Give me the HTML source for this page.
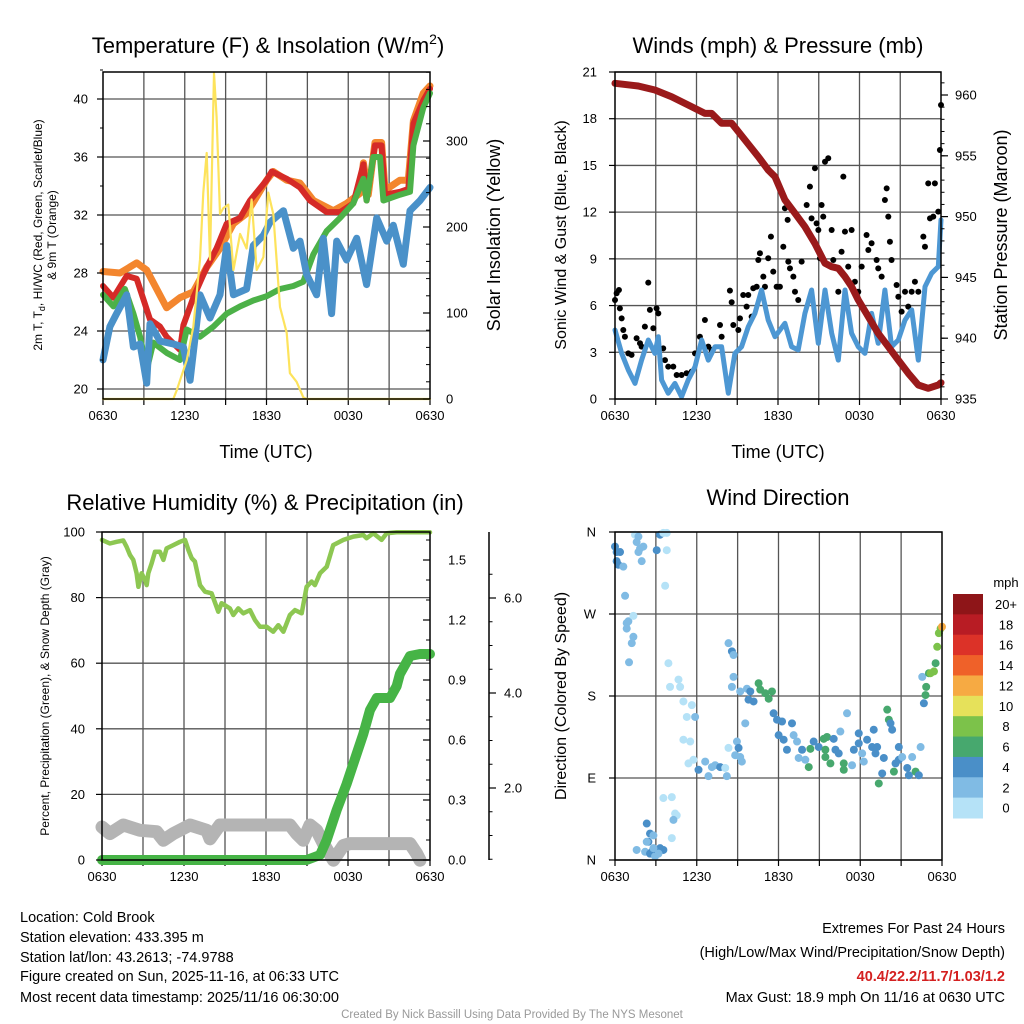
<!DOCTYPE html>
<html><head><meta charset="utf-8"><title>Cold Brook Meteogram</title>
<style>
html,body{margin:0;padding:0;background:#fff;}
svg{display:block;font-family:"Liberation Sans",sans-serif;}
.tk{font-size:13px;fill:#000;}
.ttl{font-size:22px;fill:#000;}
.ax{font-size:18px;fill:#000;}
.ft{font-size:14.5px;fill:#000;}
</style></head><body>
<svg id="chart" width="1024" height="1024" viewBox="0 0 1024 1024">
<rect x="0" y="0" width="1024" height="1024" fill="#fff"/>
<text class="ttl" x="268" y="53" text-anchor="middle">Temperature (F) &amp; Insolation (W/m<tspan dy="-9" font-size="14">2</tspan><tspan dy="9">)</tspan></text>
<text class="ttl" x="778" y="53" text-anchor="middle">Winds (mph) &amp; Pressure (mb)</text>
<text class="ttl" x="265" y="510" text-anchor="middle">Relative Humidity (%) &amp; Precipitation (in)</text>
<text class="ttl" x="778" y="505" text-anchor="middle">Wind Direction</text>
<text class="ax" x="266" y="458" text-anchor="middle">Time (UTC)</text>
<text class="ax" x="778" y="458" text-anchor="middle">Time (UTC)</text>
<text font-size="12" transform="translate(42,235) rotate(-90)" text-anchor="middle">2m T, T<tspan dy="3" font-size="9">d</tspan><tspan dy="-3">, HI/WC (Red, Green, Scarlet/Blue)</tspan></text>
<text font-size="12" transform="translate(56,235) rotate(-90)" text-anchor="middle">&amp; 9m T (Orange)</text>
<text class="ax" transform="translate(500,235) rotate(-90)" text-anchor="middle">Solar Insolation (Yellow)</text>
<text font-size="16" transform="translate(566,235) rotate(-90)" text-anchor="middle">Sonic Wind &amp; Gust (Blue, Black)</text>
<text class="ax" transform="translate(1007,235) rotate(-90)" text-anchor="middle">Station Pressure (Maroon)</text>
<text font-size="12" transform="translate(49,696) rotate(-90)" text-anchor="middle">Percent, Precipitation (Green), &amp; Snow Depth (Gray)</text>
<text font-size="16" transform="translate(566,696) rotate(-90)" text-anchor="middle">Direction (Colored By Speed)</text>
<text class="tk" x="1006" y="587" text-anchor="middle">mph</text>
<g>
<text class="ft" x="20" y="922">Location: Cold Brook</text>
<text class="ft" x="20" y="942">Station elevation: 433.395 m</text>
<text class="ft" x="20" y="962">Station lat/lon: 43.2613; -74.9788</text>
<text class="ft" x="20" y="981">Figure created on Sun, 2025-11-16, at 06:33 UTC</text>
<text class="ft" x="20" y="1002">Most recent data timestamp: 2025/11/16 06:30:00</text>
</g>
<g>
<text class="ft" x="1005" y="933" text-anchor="end">Extremes For Past 24 Hours</text>
<text class="ft" x="1005" y="957" text-anchor="end">(High/Low/Max Wind/Precipitation/Snow Depth)</text>
<text class="ft" x="1005" y="981" text-anchor="end" fill="#d42020" style="fill:#d42020;font-weight:bold">40.4/22.2/11.7/1.03/1.2</text>
<text class="ft" x="1005" y="1002" text-anchor="end">Max Gust: 18.9 mph On 11/16 at 0630 UTC</text>
</g>
<text x="512" y="1018" font-size="11.5" fill="#999" text-anchor="middle">Created By Nick Bassill Using Data Provided By The NYS Mesonet</text>
</svg>
<script>
// ---- Data (time in hours since 0630 UTC) ----
const xTickLabels=['0630','1230','1830','0030','0630'];
const tempTicks=[20,24,28,32,36,40];
const solarTicks=[0,100,200,300];
const windTicks=[0,3,6,9,12,15,18,21];
const pressTicks=[935,940,945,950,955,960];
const rhTicks=[0,20,40,60,80,100];
const precipTicks=[0.0,0.3,0.6,0.9,1.2,1.5];
const snowTicks=[2.0,4.0,6.0];
const dirTicks=[0,90,180,270,360];
const dirLabels=['N','E','S','W','N'];
const speedBins=['0','2','4','6','8','10','12','14','16','18','20+'];
const speedColors=['#b5e2f7','#80bbe4','#4a8fc8','#47a86e','#7cc24a','#e6e15a','#f6aa43','#ef6129','#dc3228','#b81c24','#8e1518'];

const t9T=[0,1.25,2.47,3.21,4.67,5.65,6.63,7.61,8.59,9.57,10.54,12.01,12.5,13.48,14.46,15.44,16.91,17.88,18.86,19.11,19.47,19.96,20.45,20.7,21.8,22.41,22.78,23.51,24];
const v9T=[28.1,28.0,28.7,28.2,25.6,26.3,26.7,28.4,29.7,31.4,32.1,34.4,35.0,34.4,34.2,33.0,32.3,32.8,33.5,35.6,33.4,37.0,37.0,33.7,34.4,34.4,38.5,40.4,40.9];
const t2T=[0,0.76,1.74,2.47,3.45,4.18,4.67,5.65,5.9,6.63,7.61,8.34,9.08,10.06,10.79,12.01,12.38,13.48,14.46,15.19,16.42,17.4,18.37,19.11,19.35,19.96,20.45,20.7,21.8,22.41,22.78,23.51,24];
const v2T=[27.1,26.3,27.8,27.6,24.8,24.3,23.6,22.7,24.4,26.3,28.4,29.7,31.4,31.8,33.0,34.4,35.0,34.5,33.9,33.0,32.2,32.2,32.8,35.5,33.0,36.8,36.8,33.4,33.6,33.8,38.3,39.9,40.7];
const tTd=[0,0.76,1.61,2.23,2.72,3.21,3.69,4.67,5.65,6.14,7.12,8.1,9.08,10.06,11.03,12.01,12.99,13.97,14.7,15.44,16.42,17.4,18.37,19.11,19.35,19.84,20.33,20.58,21.8,22.53,22.78,23.51,24];
const vTd=[26.5,25.7,26.9,25.2,23.6,21.3,23.2,22.5,22.0,24.1,23.6,24.3,25.2,25.7,26.1,26.4,26.9,27.1,27.4,29.3,30.9,31.8,32.8,34.5,33.0,36.0,36.0,33.0,33.4,33.6,36.8,39.4,40.4];
const tWC=[0,0.51,1.0,1.74,2.23,2.72,3.21,3.45,4.18,5.16,5.9,6.39,7.12,7.85,8.59,9.08,9.57,10.54,11.03,11.77,12.26,13.24,13.97,14.46,14.95,15.68,16.17,16.78,17.15,17.88,18.62,19.35,20.09,20.82,21.31,22.04,22.53,23.27,24];
const vWC=[22.0,24.3,25.2,26.5,22.9,23.1,20.4,24.5,23.3,23.1,22.9,20.6,26.5,24.9,26.5,29.9,26.5,26.9,29.9,30.6,31.5,32.3,29.7,30.2,27.9,26.5,30.4,25.2,30.2,28.9,30.4,27.2,31.8,30.2,31.3,28.6,32.3,33.0,33.9];
const tSol=[0,5.16,5.41,6.14,6.63,7.12,7.36,7.61,7.85,8.15,8.34,8.59,8.83,9.2,9.57,10.06,10.54,10.91,11.28,11.77,12.13,12.5,12.99,13.48,13.72,14.21,14.7,14.95,24];
const vSol=[0,0,10,45,84,162,240,286,162,379,328,215,222,226,150,192,175,232,150,165,240,215,107,77,30,20,2,0,0];

const tPres=[0,1.71,2.94,4.17,5.39,6.62,7.11,7.85,8.59,9.57,10.55,11.28,11.78,12.51,13.25,13.98,14.72,15.46,15.95,16.44,16.93,17.42,17.91,18.65,19.38,20.12,20.86,21.59,22.33,23.06,23.8,24];
const vPres=[960.96,960.74,960.41,959.86,959.18,958.49,958.49,957.67,957.67,956.3,954.93,953.83,953.28,951.37,950.27,949.17,947.8,946.16,945.88,945.75,945.06,944.24,943.14,941.77,940.4,939.3,938.2,937.11,936.15,935.88,936.15,936.34];
const tWind=[0,0.49,0.98,1.47,1.96,2.45,2.94,3.19,3.43,3.92,4.41,4.9,5.39,5.89,6.38,6.87,7.36,7.85,8.34,8.83,9.32,9.81,10.3,10.79,11.28,11.78,12.51,13.0,13.49,13.98,14.47,14.97,15.46,15.95,16.44,16.93,17.42,17.91,18.4,18.89,19.38,19.87,20.36,20.86,21.35,21.84,22.33,22.82,23.31,23.8,24];
const vWind=[4.43,2.93,1.86,1.0,2.5,3.79,2.93,4.0,1.22,0.37,1.0,0.15,1.22,2.07,3.79,2.5,3.36,3.36,0.37,2.93,3.36,4.64,5.5,7.0,5.07,4.0,4.86,3.36,3.15,5.5,7.0,3.58,7.0,4.22,2.5,7.0,4.22,3.36,2.93,5.5,3.58,7.0,3.36,3.79,5.07,5.72,2.5,7.21,8.07,8.5,11.5];
const tGust=[0,0.12,0.29,0.36,0.49,0.61,0.73,0.98,1.22,1.59,1.84,1.96,2.2,2.45,2.57,2.82,3.06,3.19,3.55,3.68,3.92,4.29,4.54,4.9,5.27,5.64,5.89,6.25,6.62,6.87,7.11,7.73,7.85,8.46,8.59,8.71,9.08,9.2,9.44,9.69,9.81,10.06,10.18,10.43,10.55,10.67,10.92,11.04,11.28,11.48,11.65,11.9,12.14,12.39,12.51,12.71,12.76,12.88,13.13,13.25,13.49,13.74,14.11,14.35,14.47,14.72,14.84,14.97,15.09,15.21,15.33,15.46,15.7,15.95,16.07,16.44,16.68,16.81,16.93,17.17,17.42,17.66,17.91,18.16,18.52,18.65,18.89,19.26,19.38,19.63,19.87,20.0,20.12,20.24,20.36,20.73,20.86,21.1,21.35,21.59,21.84,22.08,22.33,22.7,22.82,23.06,23.19,23.43,23.55,23.8,23.92,24];
const vGust=[6.36,6.79,7.0,5.82,5.18,4.43,4.0,2.93,2.83,3.9,3.58,3.36,4.65,7.47,5.72,4.54,5.82,5.5,3.25,2.5,2.08,2.08,1.54,1.54,1.65,1.76,2.93,4.0,5.07,3.36,3.15,4.75,4.0,6.96,6.21,4.75,4.43,5.18,6.68,5.93,6.68,5.29,7.11,7.21,8.93,9.36,7.86,7.21,9.04,10.43,8.18,7.21,7.21,9.78,12.25,11.5,8.82,8.39,7.86,6.89,6.36,8.82,12.46,13.64,11.6,14.82,11.28,10.85,9.04,12.46,11.71,15.24,15.46,10.85,8.93,6.89,9.46,14.28,10.75,8.5,10.85,7.53,6.89,8.5,10.53,9.57,10.0,8.93,8.39,7.86,12.78,13.53,11.71,10.1,8.93,7.32,6.57,5.61,6.89,5.93,6.89,7.53,6.89,10.43,9.78,13.85,11.6,11.71,13.85,12.03,15.99,18.88];

const tRH=[0,0.58,1.07,1.56,1.8,2.05,2.29,2.53,2.66,2.9,3.14,3.27,3.39,3.63,3.88,4.24,4.49,4.73,5.22,5.71,6.07,6.32,6.56,6.8,7.17,7.54,8.02,8.51,8.75,9.36,9.61,9.97,10.34,10.83,11.19,11.56,12.05,12.53,12.9,13.27,13.75,14.12,14.61,14.97,15.34,15.58,15.95,16.44,16.92,17.66,18.39,19.12,19.36,19.85,20.46,20.83,21.56,24];
const vRH=[97.6,96.5,97.0,97.4,95.5,93.0,91.5,87.4,83.3,87.4,85.4,83.8,87.4,90.4,94.0,94.0,91.5,95.0,96.0,97.0,97.6,94.5,92.0,91.0,83.8,81.8,81.3,75.7,78.3,76.7,74.7,76.7,75.2,76.2,73.2,71.1,71.1,69.6,71.6,69.6,74.7,76.2,75.2,83.3,84.9,83.8,87.4,89.4,96.0,97.6,98.6,99.1,98.1,99.6,97.6,99.6,99.9,99.9];
const tPcp=[0,14.97,15.95,16.44,17.17,17.9,18.63,19.12,19.61,20.1,21.07,21.56,21.8,22.54,23.27,24];
const vPcp=[0,0,0.025,0.1,0.25,0.38,0.53,0.63,0.75,0.81,0.81,0.87,0.93,1.02,1.03,1.03];
const tSnow=[0,0.58,1.56,2.78,4.0,4.49,5.22,6.44,7.66,7.9,8.63,13.75,14.24,14.73,15.22,15.71,16.2,16.93,17.66,18.14,22.54,23.02,23.27];
const vSnow=[1.18,1.04,1.22,1.11,1.08,0.9,1.04,1.22,1.11,0.93,1.22,1.22,1.04,0.9,1.22,1.11,0.83,0.48,0.79,0.83,0.83,0.62,0.48];

const wdT=[0,0.12,0.37,0.12,0.25,0.61,1.47,1.72,1.59,1.84,2.08,1.72,1.96,3.31,3.55,3.8,3.06,3.8,3.68,0.74,0.86,0.98,0.86,1.35,1.35,1.23,1.03,3.92,4.66,4.78,4.04,5.02,5.64,5.27,5.88,5.02,5.52,5.39,5.76,6.13,6.62,7.11,7.35,7.72,8.09,8.21,6.86,8.33,8.58,8.7,8.7,8.58,8.95,8.33,8.82,9.19,9.07,9.31,9.56,9.19,9.68,9.93,9.8,10.17,10.54,10.66,11.03,11.52,11.28,11.64,11.89,12.26,12.01,12.38,12.62,12.99,13.11,13.36,13.48,13.73,13.97,14.34,14.22,14.58,14.95,15.32,15.56,15.44,15.44,15.81,16.05,16.18,16.42,16.54,16.79,16.79,17.03,17.4,17.53,17.89,17.89,18.14,18.26,18.5,18.87,18.99,19.12,19.24,19.36,19.61,19.73,19.98,20.1,20.22,20.34,20.47,20.59,20.83,20.83,21.08,21.45,21.57,21.81,22.06,22.3,22.43,22.55,22.67,22.79,22.84,23.04,23.16,23.41,23.53,23.65,23.77,23.9,24,2.33,2.57,2.45,2.33,2.82,1.59,2.21,2.57,2.7,2.94,3.06,3.31,3.55,3.19,3.55,4.17,4.41,4.53,4.29,4.17,2.82];
const wdDir=[344,338,338,328,324,322,357,355,349,342,344,338,328,357,359,359,340,340,301,290,260,262,254,268,245,238,217,216,198,190,190,174,170,157,157,132,130,106,110,99,108,102,104,102,101,92,92,238,229,225,201,190,130,123,115,113,123,108,150,185,188,185,176,174,194,187,183,185,177,161,154,152,137,132,121,150,137,130,112,121,110,122,102,130,124,133,135,121,113,106,133,121,117,141,106,99,161,104,121,139,128,117,108,132,124,143,117,124,84,95,112,165,154,150,143,97,106,124,110,113,101,93,113,97,93,124,201,172,181,190,205,205,207,216,234,249,254,256,40,29,20,20,27,11,9,7,9,4,11,13,11,7,68,69,51,49,44,24,13];
const wdSpd=[5,5,5,5,5,3,1,3,3,3,3,3,3,5,1,1,5,1,1,3,3,3,3,1,3,3,3,1,1,1,1,1,1,1,3,1,1,1,1,5,3,3,3,5,1,3,3,3,5,3,3,3,3,1,3,3,5,3,3,3,3,5,5,5,7,7,7,7,7,5,5,5,5,5,5,5,3,3,3,5,3,7,7,5,5,7,7,7,7,7,5,5,5,3,7,7,3,3,5,5,5,3,3,5,5,5,5,5,7,5,5,7,7,5,5,7,5,5,5,3,5,5,3,7,5,3,3,5,7,7,7,9,9,7,9,9,9,13,5,5,5,3,3,3,3,5,5,3,5,5,5,3,1,1,1,1,3,1,3];

// ---- Helpers ----
const NS='http://www.w3.org/2000/svg';
const svg=document.getElementById('chart');
function mk(tag,attrs,parent){const e=document.createElementNS(NS,tag);for(const k in attrs)e.setAttribute(k,attrs[k]);(parent||svg).appendChild(e);return e;}
function lin(d0,d1,r0,r1){return v=>r0+(v-d0)*(r1-r0)/(d1-d0);}
function pathD(ts,vs,fx,fy){return ts.map((t,i)=>(i?'L':'M')+fx(t).toFixed(1)+','+fy(vs[i]).toFixed(1)).join('');}

const P=[
 {x0:103,x1:430,y0:72,y1:399},
 {x0:615,x1:941,y0:72,y1:399},
 {x0:102,x1:430,y0:532,y1:860},
 {x0:615,x1:942,y0:532,y1:860}
];
const names=['temperature','winds','humidity','direction'];

function drawFrame(i,hVals,fy){
  const p=P[i];const g=mk('g',{});
  
  
  const fx=lin(0,24,p.x0,p.x1);
  for(let h=3;h<24;h+=3){
    const l=mk('line',{x1:fx(h),x2:fx(h),y1:p.y0,y2:p.y1,stroke:'#555','stroke-width':1.3},g);
    
    
  }
  hVals.forEach(v=>{
    const y=fy(v);
    const l=mk('line',{x1:p.x0,x2:p.x1,y1:y,y2:y,stroke:'#555','stroke-width':1.3},g);
    
    
  });
  for(let h=0;h<=24;h+=3){
    const tk=mk('line',{x1:fx(h),x2:fx(h),y1:p.y1,y2:p.y1+6,stroke:'#000','stroke-width':1.2},g);
    
    
  }
  xTickLabels.forEach((s,k)=>{
    const tx=mk('text',{x:fx(k*6),y:p.y1+21,'text-anchor':'middle',class:'tk'},g);
    tx.textContent=s;
    
    
  });
  return {g,fx};
}
function border(i){
  const p=P[i];
  const r=mk('rect',{x:p.x0,y:p.y0,width:p.x1-p.x0,height:p.y1-p.y0,fill:'none',stroke:'#000','stroke-width':1.5});
  
  
}
function yLabels(vals,labels,fy,x,anchor,tickX,tickLen,nm){
  vals.forEach((v,k)=>{
    const y=fy(v);
    const t=mk('line',{x1:tickX,x2:tickX+tickLen,y1:y,y2:y,stroke:'#000','stroke-width':1.2});
    
    
    const tx=mk('text',{x:x,y:y+4.5,'text-anchor':anchor,class:'tk'});
    tx.textContent=labels[k];
    
    
  });
}
function minorTicks(from,to,step,fy,tickX,tickLen,nm){
  for(let v=from;v<=to+1e-9;v+=step){
    const y=fy(v);
    const t=mk('line',{x1:tickX,x2:tickX+tickLen,y1:y,y2:y,stroke:'#000','stroke-width':1});
    
    
  }
}
function line(ts,vs,fx,fy,color,w,nm,op){
  const e=mk('path',{d:pathD(ts,vs,fx,fy),fill:'none',stroke:color,'stroke-width':w,'stroke-linejoin':'round','stroke-linecap':'round',opacity:op||1});
  
  
  return e;
}

// ---- Panel 1: Temperature ----
const yT=lin(20,40,389,99), ySol=lin(0,300,399,141);
let f=drawFrame(0,tempTicks,yT);
line(t9T,v9T,f.fx,yT,'#f3862e',7,'series-9m-temperature');
line(t2T,v2T,f.fx,yT,'#d52a27',6,'series-2m-temperature');
line(tTd,vTd,f.fx,yT,'#4cb148',6,'series-dewpoint');
line(tWC,vWC,f.fx,yT,'#4a91c9',7,'series-wind-chill');
line(tSol,vSol,f.fx,ySol,'#fde35c',2.2,'series-solar-insolation');
border(0);
yLabels(tempTicks,tempTicks.map(String),yT,88,'end',P[0].x0-6,6,'temperature-y');
minorTicks(20,42,2,yT,P[0].x0-3,3,'temperature-y');
yLabels(solarTicks,solarTicks.map(String),ySol,446,'start',P[0].x1-7,7,'solar-y');
minorTicks(0,380,20,ySol,P[0].x1-4,4,'solar-y');

// ---- Panel 2: Winds ----
const yW=lin(0,21,399,72), yP=lin(935,960,399,95);
f=drawFrame(1,windTicks,yW);
tGust.forEach((t,i)=>{
  const c=mk('circle',{cx:f.fx(t),cy:yW(vGust[i]),r:3,fill:'#000'});
  
  
});
line(tWind,vWind,f.fx,yW,'#4d97d3',5,'series-sonic-wind');
line(tPres,vPres,f.fx,yP,'#9a1a1b',7,'series-station-pressure');
border(1);
yLabels(windTicks,windTicks.map(String),yW,597,'end',P[1].x0-6,6,'wind-y');
yLabels(pressTicks,pressTicks.map(String),yP,955,'start',P[1].x1,7,'pressure-y');
minorTicks(935,961,1,yP,P[1].x1,3.5,'pressure-y');

// ---- Panel 3: Humidity ----
const yRH=lin(0,100,860,532), yPc=lin(0,0.3,860,800), ySn=lin(2,4,788,693);
f=drawFrame(2,rhTicks,yRH);
line(tRH,vRH,f.fx,yRH,'#8dc752',4.5,'series-relative-humidity');
line(tSnow,vSnow,f.fx,ySn,'#b4b4b4',13,'series-snow-depth');
line(tPcp,vPcp,f.fx,yPc,'#46b446',10,'series-precipitation');
border(2);
yLabels(rhTicks,rhTicks.map(String),yRH,85,'end',P[2].x0-6,6,'humidity-y');
yLabels(precipTicks,precipTicks.map(v=>v.toFixed(1)),yPc,448,'start',P[2].x1-7,7,'precipitation-y');
minorTicks(0,1.6,0.1,yPc,P[2].x1-4,4,'precipitation-y');
const ax=mk('line',{x1:489,x2:489,y1:532,y2:860,stroke:'#000','stroke-width':1.5});


yLabels(snowTicks,snowTicks.map(v=>v.toFixed(1)),ySn,504,'start',489,7,'snow-depth-y');
minorTicks(0.5,6.5,0.5,ySn,489,3.5,'snow-depth-y');

// ---- Panel 4: Wind direction ----
const yD=lin(0,360,860,532);
f=drawFrame(3,dirTicks,yD);
function spdColor(s){let k=Math.floor(s/2);if(k>10)k=10;if(k<0)k=0;return speedColors[k];}
wdT.forEach((t,i)=>{
  const c=mk('circle',{cx:f.fx(t),cy:yD(wdDir[i]),r:4,fill:spdColor(wdSpd[i])});
  
  
});
border(3);
yLabels(dirTicks,dirLabels,yD,596,'end',P[3].x0-6,6,'direction-y');
// colorbar
const cbTop=594,cbH=224/11;
speedBins.forEach((lab,k)=>{
  const idx=10-k;
  const r=mk('rect',{x:953,y:cbTop+k*cbH,width:30,height:cbH+0.5,fill:speedColors[idx]});
  
  
  const tx=mk('text',{x:1006,y:cbTop+k*cbH+15,'text-anchor':'middle',class:'tk'});
  tx.textContent=speedBins[idx];
  
  
});
</script>
</body></html>
